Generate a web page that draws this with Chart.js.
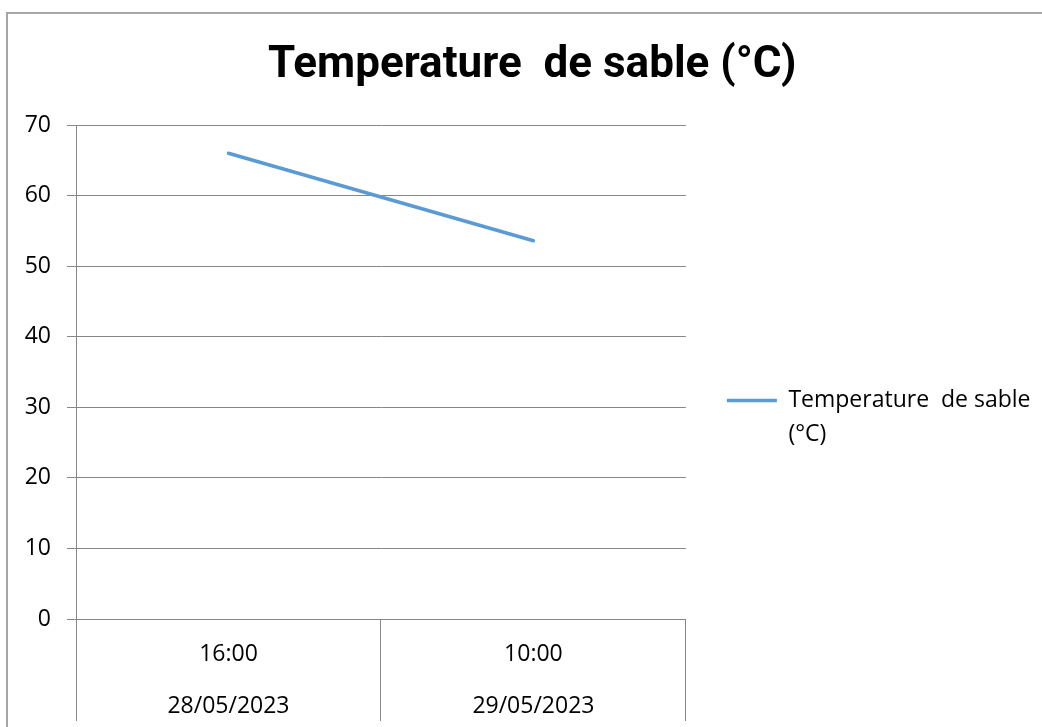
<!DOCTYPE html>
<html>
<head>
<meta charset="utf-8">
<script src="https://cdn.jsdelivr.net/npm/chart.js@4.4.0/dist/chart.umd.min.js"></script>
<style>
  html, body { margin: 0; padding: 0; background: #ffffff; overflow: hidden; }
  #wrap { position: relative; width: 1042px; height: 727px; }
  canvas { display: block; }
</style>
</head>
<body>
<div id="wrap"><canvas id="chart" width="1042" height="727"></canvas></div>
<script>
// ---- Data ----
const chartTitle = 'Temperature  de sable (°C)';
const times = ['16:00', '10:00'];
const dates = ['28/05/2023', '29/05/2023'];
const seriesLegend = ['Temperature  de sable', '(°C)'];
const seriesName = 'Temperature  de sable (°C)';
const sandTemp = [66, 53.6];
const yTickValues = [0, 10, 20, 30, 40, 50, 60, 70];

// ---- Styles ----
const LINE_COLOR = '#5B9BD5';
const GRID_COLOR = '#878787';
const TEXT_FONT = '"Open Sans", "Liberation Sans", sans-serif';
const TITLE_FONT = 'Roboto, "Liberation Sans", sans-serif';

const categoryLabels = times.map((t, i) => [t, dates[i]]);

const framePlugin = {
  id: 'frame',
  beforeDraw(chart) {
    const ctx = chart.ctx;
    ctx.save();
    ctx.fillStyle = '#ffffff';
    ctx.fillRect(0, 0, chart.width, chart.height);
    ctx.strokeStyle = '#a6a6a6';
    ctx.lineWidth = 2;
    ctx.strokeRect(7, 13, chart.width + 40, chart.height + 40);
    ctx.restore();
  }
};

function build() {
  new Chart(document.getElementById('chart'), {
    type: 'line',
    data: {
      labels: categoryLabels,
      datasets: [{
        label: seriesName,
        data: sandTemp,
        borderColor: LINE_COLOR,
        backgroundColor: LINE_COLOR,
        borderWidth: 3.5,
        borderCapStyle: 'round',
        borderJoinStyle: 'round',
        pointRadius: 0,
        pointHoverRadius: 0,
        tension: 0,
        fill: false
      }]
    },
    plugins: [framePlugin],
    options: {
      responsive: false,
      animation: false,
      devicePixelRatio: 1,
      layout: { padding: { left: 24, right: 1.5, top: 0, bottom: 0 } },
      plugins: {
        title: {
          display: true,
          text: chartTitle,
          color: '#000000',
          font: { family: TITLE_FONT, size: 44, weight: 'bold', lineHeight: 1.2 },
          padding: { top: 40, bottom: 32.2 }
        },
        legend: {
          display: true,
          position: 'right',
          align: 'center',
          maxWidth: 420,
          title: {
            display: true,
            text: '',
            font: { size: 12, lineHeight: 1.2 },
            padding: { top: 103.6, bottom: 0 }
          },
          labels: {
            color: '#000000',
            font: { family: TEXT_FONT, size: 23, lineHeight: 1.46 },
            boxWidth: 50,
            boxHeight: 3.5,
            padding: 41,
            generateLabels(chart) {
              return chart.data.datasets.map((ds, i) => ({
                text: seriesLegend,
                fillStyle: ds.borderColor,
                strokeStyle: ds.borderColor,
                lineWidth: 0,
                fontColor: '#000000',
                hidden: false,
                datasetIndex: i
              }));
            }
          }
        },
        tooltip: { enabled: false }
      },
      scales: {
        x: {
          type: 'category',
          offset: true,
          grid: {
            display: true,
            offset: true,
            drawOnChartArea: false,
            drawTicks: true,
            tickLength: 102,
            color: GRID_COLOR,
            lineWidth: 1
          },
          border: { display: true, color: GRID_COLOR, width: 1 },
          ticks: {
            color: '#000000',
            font: { family: TEXT_FONT, size: 23, lineHeight: 2.25 },
            padding: -92,
            maxRotation: 0,
            minRotation: 0,
            autoSkip: false
          },
          afterFit(scale) { scale.height = 108; }
        },
        y: {
          min: 0,
          max: 70,
          afterBuildTicks(scale) { scale.ticks = yTickValues.map(v => ({ value: v })); },
          grid: {
            color: GRID_COLOR,
            lineWidth: 1,
            drawTicks: true,
            tickLength: 9
          },
          border: { display: true, color: GRID_COLOR, width: 1 },
          ticks: {
            color: '#000000',
            font: { family: TEXT_FONT, size: 23 },
            padding: 16
          },
          afterFit(scale) { scale.width = 52; }
        }
      }
    }
  });
}

Promise.all([
  document.fonts.load('bold 44px Roboto'),
  document.fonts.load('23px "Open Sans"')
]).then(build, build);
</script>
</body>
</html>
